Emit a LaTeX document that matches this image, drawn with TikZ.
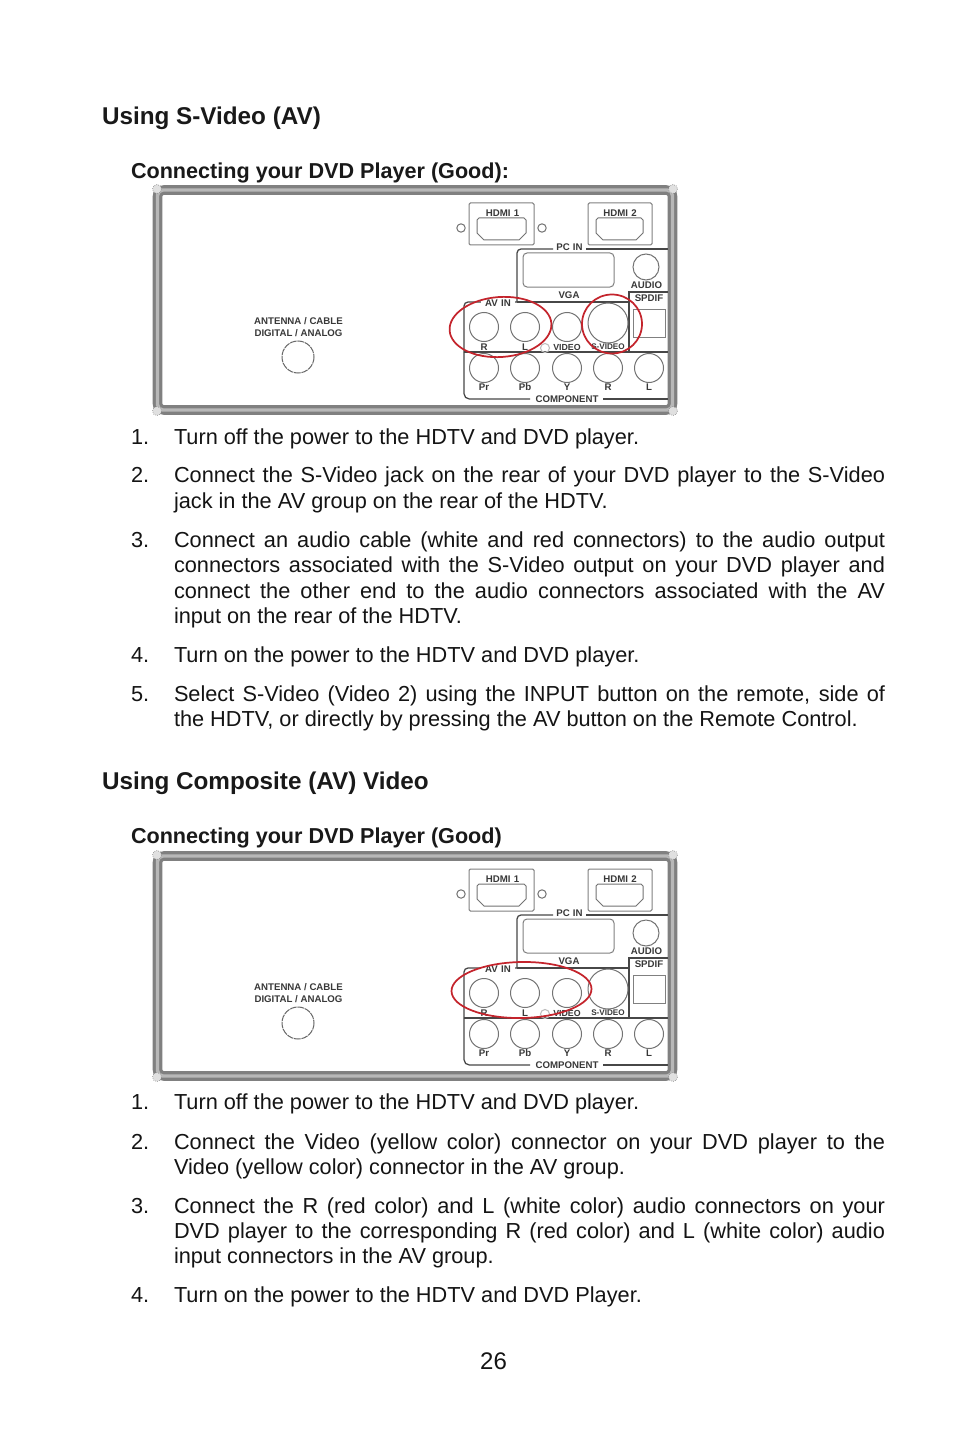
\documentclass[tikz,border=0pt]{standalone}
\usepackage{fontspec}
\setmainfont{Liberation Sans}
\newcommand{\bodyfont}{\fontsize{16.3pt}{20pt}\selectfont}
\newcommand{\headfont}{\fontsize{18.2pt}{20pt}\bfseries\selectfont}
\newcommand{\subfont}{\fontsize{16.2pt}{20pt}\bfseries\selectfont}
\newcommand{\jline}[1]{\makebox[533.25pt][s]{#1}}
\definecolor{markred}{HTML}{C4242C}
\tikzset{
  x=0.75pt,y=-0.75pt,
  txt/.style={inner sep=0pt,outer sep=0pt,anchor=base west,font=\bodyfont,text=black!92},
  head/.style={inner sep=0pt,outer sep=0pt,anchor=base west,font=\headfont,text=black!90},
  subhead/.style={inner sep=0pt,outer sep=0pt,anchor=base west,font=\subfont,text=black!90},
  lab/.style={inner sep=0pt,outer sep=0pt,anchor=center,font=\fontsize{7.25pt}{8pt}\bfseries\selectfont,text=black!78},
  smalllab/.style={lab,font=\fontsize{6.1pt}{7pt}\bfseries\selectfont},
  wire/.style={draw=black!72,line width=0.95pt},
  thinpart/.style={draw=black!50,line width=0.75pt},
  port/.style={draw=black!55,line width=0.75pt},
  redmark/.style={draw=markred,line width=1.3pt},
}
\newcommand{\panel}[2]{%
\begin{scope}[shift={(0,#2)}]
  % frame
  \draw[draw=black!50,line width=7.2pt,rounded corners=5pt] (157.5,190) rectangle (672.5,410);
  \draw[draw=black!28,line width=2.6pt,rounded corners=4pt] (157.5,190) rectangle (672.5,410);
  \foreach \cx/\cy in {157/189,673/189,157/411,673/411}
    \draw[draw=black!45,fill=black!12,line width=0.5pt,densely dotted] (\cx,\cy) circle (4.5);
  % HDMI
  \draw[thinpart,rounded corners=1pt] (469,203) rectangle (534,245);
  \draw[thinpart,rounded corners=1pt] (588,203) rectangle (652,245);
  \draw[port] (477,220) -- (479,218) -- (524,218) -- (526,220) -- (526,233) -- (519,240) -- (484,240) -- (477,233) -- cycle;
  \draw[port] (596,220) -- (598,218) -- (641,218) -- (643,220) -- (643,233) -- (636,240) -- (603,240) -- (596,233) -- cycle;
  \node[lab] (#1-h1) at (502.5,213) {HDMI\,\,1};
  \node[lab] (#1-h2) at (620,213) {HDMI\,\,2};
  \draw[port] (461,228) circle (4.2);
  \draw[port] (542,228) circle (4.2);
  % boxes
  \draw[wire,rounded corners=3pt] (553,249) -- (517,249) -- (517,302);
  \draw[wire] (586,249) -- (668,249);
  \node[lab] (#1-pc) at (569.5,247) {PC\,\,IN};
  \draw[thinpart,rounded corners=3pt] (523,253) rectangle (614,287);
  \node[lab] (#1-vga) at (569,295) {VGA};
  \draw[port] (646,267) circle (13);
  \node[lab] (#1-audio) at (646.5,285) {AUDIO};
  \draw[wire] (668,292) -- (629,292) -- (629,352);
  \node[lab] (#1-spdif) at (649,298) {SPDIF};
  \draw[thinpart] (633,309) rectangle (665,337);
  \draw[wire] (629,302) -- (517,302);
  \draw[wire,rounded corners=3pt] (517,302) -- (464,302) -- (464,352);
  \node[lab,fill=white,inner xsep=3pt] (#1-av) at (498,303) {AV\,\,IN};
  \draw[wire] (464,352) -- (668,352);
  \draw[wire,rounded corners=4pt] (464,352) -- (464,399) -- (530,399);
  \draw[wire] (603,399) -- (668,399);
  \node[lab] (#1-comp) at (567,399) {COMPONENT};
  % jacks
  \foreach \n/\x in {R/484,L/525,V/567}
    \draw[port] (\x,327) circle (14.5);
  \draw[port] (608,323) circle (20);
  \draw[draw=black!25,line width=0.8pt] (545,348) circle (4.5);
  \node[lab] (#1-r) at (484,347) {R};
  \node[lab] (#1-l) at (525,347) {L};
  \node[lab,font=\fontsize{6.6pt}{7pt}\bfseries\selectfont] (#1-video) at (567,347) {VIDEO};
  \node[smalllab] (#1-sv) at (608,347) {S-VIDEO};
  \foreach \x in {484,525,567,608,649}
    \draw[port] (\x,368) circle (14.5);
  \node[lab] (#1-pr) at (484,387) {Pr};
  \node[lab] (#1-pb) at (525,387) {Pb};
  \node[lab] (#1-y) at (567,387) {Y};
  \node[lab] (#1-cr) at (608,387) {R};
  \node[lab] (#1-cl) at (649,387) {L};
  % antenna
  \node[lab] (#1-ant1) at (298.5,321) {ANTENNA / CABLE};
  \node[lab] (#1-ant2) at (298.5,333) {DIGITAL / ANALOG};
  \draw[draw=black!60,line width=0.75pt,dash pattern=on 5pt off 0.6pt] (298,357) circle (16);
\end{scope}}
\begin{document}
\begin{tikzpicture}
\useasboundingbox[fill=white] (0,0) rectangle (954,1430);
\node[head] (h1) at (102,125) {Using S-Video (AV)};
\node[subhead] (s1) at (131,179) {Connecting your DVD Player (Good):};
\panel{pa}{0}
\draw[redmark,rotate around={4:(500.5,327)}] (500.5,327) ellipse [x radius=51,y radius=30];
\draw[redmark] (612,324) ellipse [x radius=30,y radius=29.5];
\node[txt] (a1n) at (131,444) {1.};
\node[txt] (a1) at (174,444) {Turn off the power to the HDTV and DVD player.};
\node[txt] (a2n) at (131,482) {2.};
\node[txt] (a2a) at (174,482) {\jline{Connect the S-Video jack on the rear of your DVD player to the S-Video}};
\node[txt] (a2b) at (174,508) {jack in the AV group on the rear of the HDTV.};
\node[txt] (a3n) at (131,547) {3.};
\node[txt] (a3a) at (174,547) {\jline{Connect an audio cable (white and red connectors) to the audio output}};
\node[txt] (a3b) at (174,572) {\jline{connectors associated with the S-Video output on your DVD player and}};
\node[txt] (a3c) at (174,598) {\jline{connect the other end to the audio connectors associated with the AV}};
\node[txt] (a3d) at (174,623) {input on the rear of the HDTV.};
\node[txt] (a4n) at (131,662) {4.};
\node[txt] (a4) at (174,662) {Turn on the power to the HDTV and DVD player.};
\node[txt] (a5n) at (131,701) {5.};
\node[txt] (a5a) at (174,701) {\jline{Select S-Video (Video 2) using the INPUT button on the remote, side of}};
\node[txt] (a5b) at (174,726) {the HDTV, or directly by pressing the AV button on the Remote Control.};
\node[head] (h2) at (102,789) {Using Composite (AV) Video};
\node[subhead] (s2) at (131,843) {Connecting your DVD Player (Good)};
\panel{pb}{666}
\draw[redmark,rotate around={1:(521.5,990)}] (521.5,990) ellipse [x radius=70,y radius=28];
\node[txt] (b1n) at (131,1109) {1.};
\node[txt] (b1) at (174,1109) {Turn off the power to the HDTV and DVD player.};
\node[txt] (b2n) at (131,1149) {2.};
\node[txt] (b2a) at (174,1149) {\jline{Connect the Video (yellow color) connector on your DVD player to the}};
\node[txt] (b2b) at (174,1174) {Video (yellow color) connector in the AV group.};
\node[txt] (b3n) at (131,1213) {3.};
\node[txt] (b3a) at (174,1213) {\jline{Connect the R (red color) and L (white color) audio connectors on your}};
\node[txt] (b3b) at (174,1238) {\jline{DVD player to the corresponding R (red color) and L (white color) audio}};
\node[txt] (b3c) at (174,1263) {input connectors in the AV group.};
\node[txt] (b4n) at (131,1302) {4.};
\node[txt] (b4) at (174,1302) {Turn on the power to the HDTV and DVD Player.};
\node[txt,anchor=base] (pg) at (493.5,1369) {\fontsize{18pt}{20pt}\selectfont 26};
\end{tikzpicture}
\end{document}
